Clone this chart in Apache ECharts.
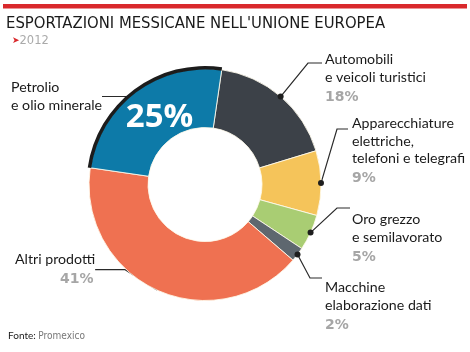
<!DOCTYPE html>
<html><head><meta charset="utf-8">
<script src="https://cdn.jsdelivr.net/npm/echarts@6/dist/echarts.min.js"></script>
<style>html,body{margin:0;padding:0;background:#fff}#c{width:470px;height:352px}</style>
</head><body><div id="c"></div>
<script>
// ---- data ----
var title = "ESPORTAZIONI MESSICANE NELL'UNIONE EUROPEA";
var year = "2012";
var source = ["Fonte: ", "Promexico"];
var categories = ["Automobili\ne veicoli turistici", "Apparecchiature\nelettriche,\ntelefoni e telegrafi", "Oro grezzo\ne semilavorato", "Macchine\nelaborazione dati", "Altri prodotti", "Petrolio\ne olio minerale"];
var values = [18, 9, 5, 2, 41, 25];
var colors = ["#3c4148", "#f5c45a", "#a9cd73", "#5e676f", "#ef7151", "#0d7aa8"];

// ---- layout ----
var CX = 205, CY = 184.5, R0 = 57, R1 = 116, START = 81.7;
// label positions (top-left) and leader elbow/end points
var labelPos = [[325, 51], [352, 115], [352, 211], [325, 279], [15, 251], [11, 79]];
var leaders = [[[308, 63], [322, 63]], [[337, 129], [348, 129]], [[337, 208], [350, 208]], [[310, 278], [322, 278]], null, null];

var total = values.reduce(function (a, b) { return a + b; }, 0);
function anchor(i) {
  var cum = 0; for (var k = 0; k < i; k++) cum += values[k];
  var mid = (START - 360 * (cum + values[i] / 2) / total) * Math.PI / 180;
  return [CX + R1 * Math.cos(mid), CY - R1 * Math.sin(mid)];
}

var font = 'Lato, "Open Sans", sans-serif';
var rich = {
  n: { fontFamily: font, fontSize: 14.2, color: '#1a1a1a', lineHeight: 17.5 },
  p: { fontFamily: '"DejaVu Sans", sans-serif', fontWeight: 'bold', fontSize: 14, color: '#a6a6a6', lineHeight: 22 },
  pl: { fontFamily: '"DejaVu Sans", sans-serif', fontWeight: 'bold', fontSize: 14, color: '#a6a6a6', lineHeight: 22, padding: [0, 0, 0, 45] }
};

var data = values.map(function (v, i) {
  return { name: categories[i], value: v, itemStyle: { color: colors[i] } };
});

var graphics = [
  { type: 'rect', shape: { x: 3, y: 4, width: 464, height: 4.5 }, style: { fill: '#d9292c' } },
  { type: 'text', x: 6, y: 15, style: { text: title, font: '16.5px "DejaVu Sans Condensed", sans-serif', fill: '#1a1a1a' } },
  { type: 'text', x: 12, y: 35, style: { text: '{a|➤}{b|' + year + '}', rich: { a: { fontSize: 9, fill: '#d9292c', fontFamily: '"DejaVu Sans"' }, b: { fontSize: 11.5, fill: '#aaaaaa', fontFamily: '"DejaVu Sans", sans-serif' } } } },
  { type: 'text', x: 8, y: 331, style: { text: '{a|' + source[0] + '}{b|' + source[1] + '}', rich: { a: { fontSize: 10, fill: '#1a1a1a', fontFamily: font }, b: { fontSize: 10, fill: '#777', fontFamily: '"Liberation Sans Narrow", "DejaVu Sans Condensed", sans-serif' } } } }
];
values.forEach(function (v, i) {
  if (leaders[i]) {
    var a = anchor(i);
    graphics.push({ type: 'circle', shape: { cx: a[0], cy: a[1], r: 3 }, style: { fill: '#1e1e1e' }, z: 10 });
  }
});

var chart = echarts.init(document.getElementById('c'));
chart.setOption({
  animation: false,
  graphic: graphics,
  series: [
    {
      type: 'pie', center: [CX, CY], radius: [R0, R1], startAngle: START, clockwise: true,
      silent: true, data: data,
      itemStyle: { borderColor: 'rgba(255,250,235,0.85)', borderWidth: 1 },
      label: {
        show: true, position: 'outside', overflow: 'none', width: 200,
        formatter: function (p) {
          var lines = p.name.split('\n').map(function (s) { return '{n|' + s + '}'; }).join('\n');
          if (p.dataIndex === 5) return lines;
          return lines + '\n{' + (p.dataIndex === 4 ? 'pl' : 'p') + '|' + p.value + '%}';
        },
        rich: rich
      },
      labelLine: { show: true, lineStyle: { color: '#2a2a2a', width: 1.2 } },
      labelLayout: function (p) {
        var i = p.dataIndex;
        var o = { x: labelPos[i][0], y: labelPos[i][1], align: 'left', verticalAlign: 'top', width: 200 };
        if (leaders[i]) {
          o.labelLinePoints = [anchor(i), leaders[i][0], leaders[i][1]];
        }
        return o;
      }
    },
    {
      type: 'pie', center: [CX, CY], radius: [R1 - 1, R1 + 2.5], startAngle: START, clockwise: true,
      silent: true, z: 3,
      data: values.map(function (v, i) { return { value: v, itemStyle: { color: i === 5 ? '#1c1c1c' : 'rgba(0,0,0,0)' } }; }),
      label: { show: false }, labelLine: { show: false }
    },
    {
      type: 'pie', center: [CX, CY], radius: [R0, R1], startAngle: START, clockwise: true,
      silent: true, z: 4,
      data: values.map(function (v, i) {
        return { value: v, itemStyle: { color: 'rgba(0,0,0,0)' },
          label: { show: i === 5, position: 'inside', formatter: '{d}%', color: '#fff', fontSize: 33, fontWeight: 'bold', fontFamily: '"Open Sans", sans-serif' } };
      }),
      labelLine: { show: false },
      labelLayout: function (p) { return { dx: 8, dy: 5 }; }
    }
  ]
});
</script></body></html>
